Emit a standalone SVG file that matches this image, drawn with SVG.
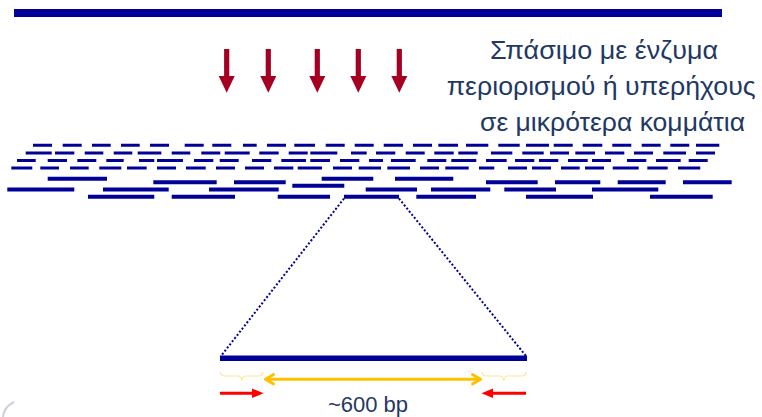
<svg xmlns="http://www.w3.org/2000/svg" width="762" height="417" viewBox="0 0 762 417">
  <style>
    .dna { fill: none; stroke: #000099; stroke-linecap: butt; }
    .short { stroke-width: 3; }
    .long { stroke-width: 4; }
    .zoom { fill: none; stroke: #000099; stroke-width: 2; stroke-dasharray: 2 2; }
    .label { font-family: "Liberation Sans", "DejaVu Sans", sans-serif; fill: #1F3864; }
    .brace { fill: none; stroke: #FFE699; stroke-width: 1.2; }
  </style>
  <defs>
    <!-- cutting arrow, tip at (0, 43.7) -->
    <polygon id="cut" points="-2.6,0 2.6,0 2.6,27 8,27 0,43.7 -8,27 -2.6,27" fill="#A50021"/>
  </defs>

  <rect width="762" height="417" fill="#ffffff"/>

  <!-- intact genomic DNA -->
  <rect x="14" y="9" width="708" height="8" fill="#000099"/>

  <!-- cutting agents -->
  <g id="cuts">
    <use href="#cut" x="226.7" y="49"/>
    <use href="#cut" x="268.3" y="49"/>
    <use href="#cut" x="317.3" y="49"/>
    <use href="#cut" x="358.3" y="49"/>
    <use href="#cut" x="399.3" y="49"/>
  </g>

  <g id="caption" class="label" font-size="26.5">
    <text x="490" y="59.3" textLength="228" lengthAdjust="spacingAndGlyphs">Σπάσιμο με ένζυμα</text>
    <text x="446.7" y="95.3" textLength="309" lengthAdjust="spacingAndGlyphs">περιορισμού ή υπερήχους</text>
    <text x="480" y="130.5" textLength="265" lengthAdjust="spacingAndGlyphs">σε μικρότερα κομμάτια</text>
  </g>

  <!-- short fragments -->
  <g id="fragments-short" class="dna short">
    <path d="M33 145.3H52M62.7 145.3H81.7M92 145.3H110.7M121 145.3H139.7M150 145.3H169M184.7 145.3H203.7M212.3 145.3H231.3M243 145.3H256.7M267 145.3H286M294.3 145.3H315M325.7 145.3H344.7M354.7 145.3H373.7M383.7 145.3H403M413 145.3H432M438.3 145.3H458M466 145.3H488.3M498.3 145.3H519.7M526 145.3H549M553.7 145.3H572.7M582.7 145.3H602.3M612.3 145.3H631.3M641.7 145.3H660.7M670.3 145.3H689.3M696 145.3H719.3"/>
    <path d="M25.7 153H51.7M55 153H74.3M84.7 153H103.3M113.7 153H132.3M137.7 153H161.3M171.7 153H190.3M201.3 153H220.3M224.7 153H249.7M259.3 153H278.7M288.7 153H307.7M310.3 153H337.3M351 153H366.7M376 153H395.3M405.7 153H424.7M434.3 153H453.7M458.3 153H477.7M491 153H512.3M522.3 153H543.7M550 153H569M575.3 153H595M605 153H624.3M634 153H653M663.3 153H686M696 153H715"/>
    <path d="M17 160.5H35.7M47.7 160.5H67M77.3 160.5H96.3M106.3 160.5H123.7M139 160.5H154.3M157 160.5H183M194 160.5H213.3M219.7 160.5H238.7M252 160.5H271.3M281.3 160.5H306M310.3 160.5H330M340 160.5H359.3M369 160.5H383M391 160.5H415.7M427.3 160.5H446.3M451.3 160.5H476.3M486 160.5H506.7M515 160.5H534.3M539 160.5H558.3M568 160.5H587.7M592 160.5H611M627 160.5H646.3M656 160.5H680.7M688.7 160.5H707.7"/>
    <path d="M11.3 168H32.3M40.3 168H59M70 168H88.7M99.3 168H121.3M127 168H146.7M157 168H176M186 168H205.7M216 168H235M245 168H264M274 168H293.3M297.7 168H322M333 168H352M358.7 168H381M387.3 168H410M420 168H439M445.3 168H468.7M479 168H494.3M508 168H527M532 168H551M561 168H579.7M585 168H604M612.7 168H638.7M647.3 168H667.7M678 168H700.3"/>
  </g>

  <!-- long fragments -->
  <g id="fragments-long" class="dna long">
    <path d="M47.7 178.7H107M321.7 178.7H373.3M395 178.7H453.3"/>
    <path d="M153.3 182.2H216.7M234 182.2H285.7M486 182.2H537.7M555 182.2H600.3M617.7 182.2H665.7M683 182.2H731.7"/>
    <path d="M292.3 185.8H344.3"/>
    <path d="M7.3 189.5H74.3M103 189.5H168.7M209 189.5H278.7M365.7 189.5H417M431 189.5H490.3M504.3 189.5H556M592 189.5H658.3"/>
    <path d="M88 196.8H154.3M171.7 196.8H235M277.7 196.8H330M344 196.8H399M416.3 196.8H476M526 196.8H593M650 196.8H712.7"/>
  </g>

  <!-- magnified fragment -->
  <g id="connectors">
    <path class="zoom" d="M344 198.5L221 356"/>
    <path class="zoom" d="M399 198.5L526 356"/>
  </g>

  <g id="fragment">
    <rect x="220" y="355.5" width="307" height="5.5" fill="#000099"/>
  </g>

  <!-- read ends -->
  <g id="braces">
    <path class="brace" d="M220.5 372Q220.5 376 225 376H237.5Q241.5 376 241.8 381Q242.1 376 246 376H258.5Q263 376 263 372"/>
    <path class="brace" d="M482 372Q482 376 486.5 376H499.5Q503.5 376 503.8 381Q504.1 376 508 376H521.5Q526 376 526 372"/>
  </g>

  <!-- insert length -->
  <g id="insert" fill="none" stroke="#FFC000" stroke-width="3" stroke-linecap="round" stroke-linejoin="round">
    <path d="M266 379.3H480"/>
    <path d="M273.5 374.5L265.5 379.3L273.5 384"/>
    <path d="M472.5 374.5L480.5 379.3L472.5 384"/>
  </g>

  <!-- primers -->
  <g id="primers">
    <path d="M220 393.3H253" stroke="#FF0000" stroke-width="3"/>
    <polygon points="252,388.5 263.5,393.3 252,398" fill="#FF0000"/>
    <path d="M526 393.3H493" stroke="#FF0000" stroke-width="3"/>
    <polygon points="493,388.5 481.5,393.3 493,398" fill="#FF0000"/>
  </g>

  <text class="label" x="368" y="412" font-size="22" text-anchor="middle">~600 bp</text>

  <!-- corner mark -->
  <path d="M3 417Q4 407 14 402" fill="none" stroke="#B8A8C8" stroke-width="2" opacity="0.6"/>
</svg>
